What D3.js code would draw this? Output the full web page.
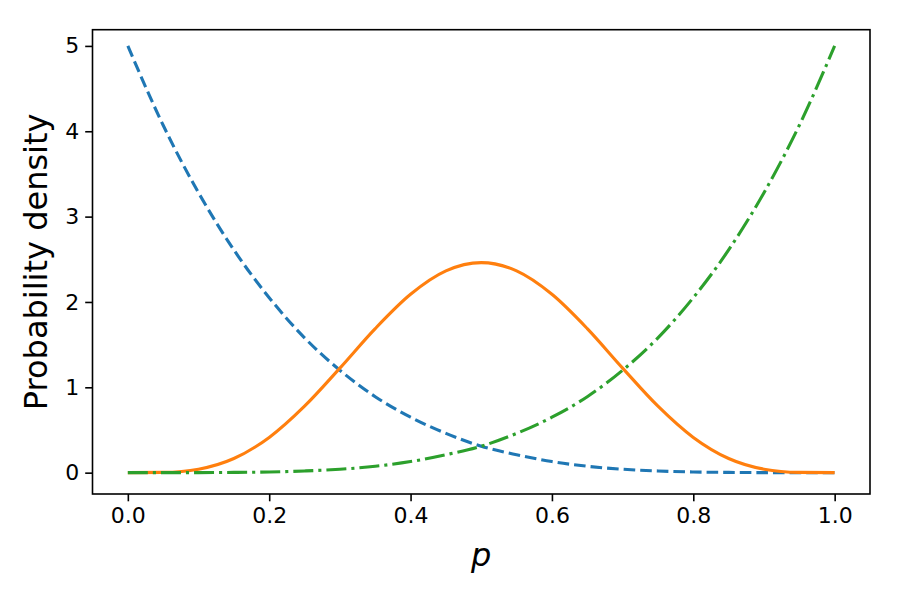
<!DOCTYPE html>
<html>
<head>
<meta charset="utf-8">
<script src="https://cdn.jsdelivr.net/npm/d3@7"></script>
<style>
body { margin: 0; background: #fff; }
text { font-family: "DejaVu Sans", sans-serif; fill: #000; }
</style>
</head>
<body>
<svg width="900" height="600"></svg>
<script>
// sample points along p
var pValues = [0, 0.05, 0.1, 0.15, 0.2, 0.25, 0.3, 0.35, 0.4, 0.45, 0.5,
	       0.55, 0.6, 0.65, 0.7, 0.75, 0.8, 0.85, 0.9, 0.95, 1.0]
var blueDensity = [5.0, 4.07, 3.28, 2.61, 2.05, 1.58, 1.20, 0.89, 0.65, 0.46, 0.31,
		   0.21, 0.13, 0.075, 0.04, 0.02, 0.008, 0.003, 0.0005, 0, 0]
var orangeDensity = [0, 0.003, 0.041, 0.166, 0.413, 0.779, 1.225, 1.688, 2.09, 2.364, 2.461,
		     2.364, 2.09, 1.688, 1.225, 0.779, 0.413, 0.166, 0.041, 0.003, 0]
var greenDensity = [0, 0, 0.0005, 0.003, 0.008, 0.02, 0.04, 0.075, 0.13, 0.21, 0.31,
		    0.46, 0.65, 0.89, 1.20, 1.58, 2.05, 2.61, 3.28, 4.07, 5.0]
var xTicks = [0, 0.2, 0.4, 0.6, 0.8, 1.0]
var yTicks = [0, 1, 2, 3, 4, 5]

var svg = d3.select('svg')
var plotLeft = 92.5, plotRight = 870, plotTop = 29.7, plotBottom = 494

var x = d3.scaleLinear().domain([-0.05, 1.05]).range([plotLeft, plotRight])
var y = d3.scaleLinear().domain([-0.25, 5.19]).range([plotBottom, plotTop])

var series = [
    {vals: blueDensity, color: '#1f77b4', dash: '11.6,5'},
    {vals: orangeDensity, color: '#ff7f0e', dash: null},
    {vals: greenDensity, color: '#2ca02c', dash: '20,5,3.1,5'}
]

var lineFunc = d3.line()
    .x(function(d) { return x(d[0]) })
    .y(function(d) { return y(d[1]) })
    .curve(d3.curveMonotoneX)

series.forEach(function(s) {
    var pts = pValues.map(function(p, i) { return [p, s.vals[i]] })
    svg.append('path')
	.attr('d', lineFunc(pts))
	.attr('fill', 'none')
	.attr('stroke', s.color)
	.attr('stroke-width', 3.1)
	.attr('stroke-dasharray', s.dash)
})

// axes
var xAxis = d3.axisBottom(x).tickValues(xTicks).tickFormat(d3.format('.1f'))
    .tickSizeInner(7.3).tickSizeOuter(0).tickPadding(6)
var yAxis = d3.axisLeft(y).tickValues(yTicks).tickFormat(d3.format('d'))
    .tickSizeInner(7.3).tickSizeOuter(0).tickPadding(6)

var gx = svg.append('g').attr('transform', 'translate(0,' + plotBottom + ')').call(xAxis)
var gy = svg.append('g').attr('transform', 'translate(' + plotLeft + ',0)').call(yAxis)
;[gx, gy].forEach(function(g) {
    g.attr('font-size', 22).attr('font-family', 'DejaVu Sans')
    g.select('.domain').remove()
    g.selectAll('line').attr('stroke', '#000').attr('stroke-width', 1.6)
    g.selectAll('text').attr('fill', '#000')
})

// frame
svg.append('rect')
    .attr('x', plotLeft).attr('y', plotTop)
    .attr('width', plotRight - plotLeft).attr('height', plotBottom - plotTop)
    .attr('fill', 'none').attr('stroke', '#000').attr('stroke-width', 1.6)

svg.append('text')
    .attr('x', (plotLeft + plotRight) / 2).attr('y', 566)
    .attr('text-anchor', 'middle')
    .attr('font-size', 32).attr('font-style', 'italic')
    .text('p')

svg.append('text')
    .attr('transform', 'translate(47,' + (plotTop + plotBottom) / 2 + ') rotate(-90)')
    .attr('text-anchor', 'middle')
    .attr('font-size', 32)
    .text('Probability density')
</script>
</body>
</html>
